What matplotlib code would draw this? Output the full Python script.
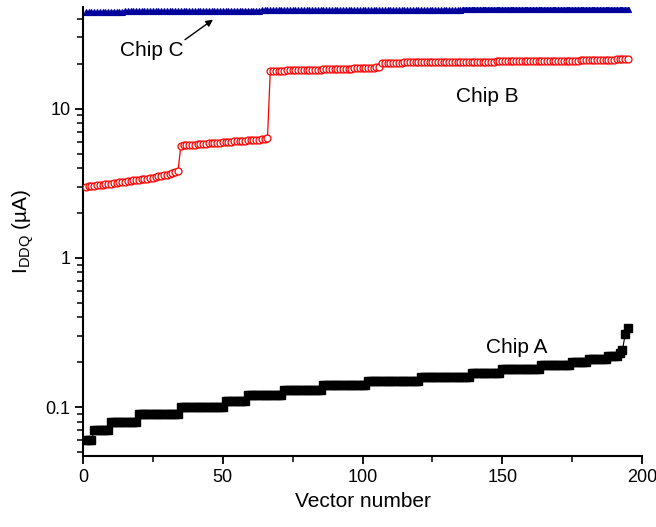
import matplotlib
matplotlib.use("Agg")
import matplotlib.pyplot as plt
from matplotlib.ticker import LogLocator, FuncFormatter, MultipleLocator
import numpy as np

plt.rcParams['font.family'] = ['Liberation Sans', 'DejaVu Sans']

# ---------------- data ----------------
vectors = list(range(1, 196))

chip_a = ([0.06] * 3 + [0.07] * 6 + [0.08] * 10 + [0.09] * 15 + [0.10] * 16 +
          [0.11] * 8 + [0.12] * 13 + [0.13] * 14 + [0.14] * 16 + [0.15] * 19 +
          [0.16] * 18 + [0.17] * 11 + [0.18] * 14 + [0.19] * 11 + [0.20] * 6 +
          [0.21] * 7 + [0.22] * 4 + [0.23, 0.24, 0.31, 0.34])

chip_b = [
    # vectors 1-34
    3.00, 3.02, 3.04, 3.05, 3.07, 3.09, 3.10, 3.12, 3.14, 3.15,
    3.17, 3.19, 3.20, 3.22, 3.24, 3.26, 3.28, 3.30, 3.32, 3.34,
    3.36, 3.38, 3.40, 3.43, 3.45, 3.48, 3.51, 3.54, 3.57, 3.61,
    3.65, 3.69, 3.74, 3.80,
    # vectors 35-66
    5.65, 5.67, 5.70, 5.71, 5.73, 5.75, 5.78, 5.79, 5.81, 5.83,
    5.85, 5.88, 5.89, 5.91, 5.93, 5.95, 5.98, 5.99, 6.01, 6.03,
    6.05, 6.08, 6.09, 6.11, 6.13, 6.15, 6.18, 6.19, 6.21, 6.24,
    6.27, 6.31,
    # vectors 67-106
    17.90, 17.92, 17.94, 17.96, 17.98, 18.00, 18.02, 18.04, 18.06, 18.08,
    18.10, 18.12, 18.14, 18.17, 18.20, 18.22, 18.24, 18.26, 18.28, 18.30,
    18.33, 18.36, 18.38, 18.40, 18.43, 18.46, 18.49, 18.52, 18.55, 18.58,
    18.61, 18.64, 18.67, 18.70, 18.74, 18.78, 18.82, 18.87, 18.93, 19.00,
    # vectors 107-195
    20.30, 20.31, 20.33, 20.33, 20.34, 20.36, 20.36, 20.37, 20.39, 20.39,
    20.40, 20.42, 20.42, 20.43, 20.45, 20.45, 20.46, 20.48, 20.48, 20.49,
    20.50, 20.52, 20.52, 20.53, 20.55, 20.55, 20.56, 20.58, 20.58, 20.59,
    20.60, 20.62, 20.62, 20.63, 20.65, 20.65, 20.66, 20.68, 20.68, 20.69,
    20.70, 20.72, 20.72, 20.73, 20.75, 20.75, 20.76, 20.78, 20.78, 20.79,
    20.80, 20.82, 20.82, 20.83, 20.85, 20.85, 20.86, 20.88, 20.88, 20.89,
    20.90, 20.92, 20.92, 20.93, 20.95, 20.95, 20.96, 20.98, 20.99, 21.00,
    21.02, 21.04, 21.06, 21.08, 21.10, 21.12, 21.14, 21.16, 21.18, 21.20,
    21.23, 21.26, 21.29, 21.32, 21.35, 21.38, 21.41, 21.45, 21.50,
]

chip_c = [
    44.5, 44.5, 44.5, 44.6, 44.6, 44.6, 44.6, 44.6, 44.7, 44.7,
    44.7, 44.7, 44.7, 44.7, 44.8, 44.8, 44.8, 44.8, 44.8, 44.8,
    44.9, 44.9, 44.9, 44.9, 44.9, 44.9, 45.0, 45.0, 45.0, 45.0,
    45.0, 45.0, 45.0, 45.1, 45.1, 45.1, 45.1, 45.1, 45.1, 45.1,
    45.2, 45.2, 45.2, 45.2, 45.2, 45.2, 45.2, 45.3, 45.3, 45.3,
    45.3, 45.3, 45.3, 45.3, 45.3, 45.4, 45.4, 45.4, 45.4, 45.4,
    45.4, 45.4, 45.4, 45.5, 45.5, 45.5, 45.5, 45.5, 45.5, 45.5,
    45.5, 45.5, 45.6, 45.6, 45.6, 45.6, 45.6, 45.6, 45.6, 45.6,
    45.6, 45.7, 45.7, 45.7, 45.7, 45.7, 45.7, 45.7, 45.7, 45.7,
    45.7, 45.8, 45.8, 45.8, 45.8, 45.8, 45.8, 45.8, 45.8, 45.8,
    45.8, 45.9, 45.9, 45.9, 45.9, 45.9, 45.9, 45.9, 45.9, 45.9,
    45.9, 45.9, 46.0, 46.0, 46.0, 46.0, 46.0, 46.0, 46.0, 46.0,
    46.0, 46.0, 46.0, 46.1, 46.1, 46.1, 46.1, 46.1, 46.1, 46.1,
    46.1, 46.1, 46.1, 46.1, 46.1, 46.2, 46.2, 46.2, 46.2, 46.2,
    46.2, 46.2, 46.2, 46.2, 46.2, 46.2, 46.2, 46.3, 46.3, 46.3,
    46.3, 46.3, 46.3, 46.3, 46.3, 46.3, 46.3, 46.3, 46.3, 46.3,
    46.4, 46.4, 46.4, 46.4, 46.4, 46.4, 46.4, 46.4, 46.4, 46.4,
    46.4, 46.4, 46.4, 46.5, 46.5, 46.5, 46.5, 46.5, 46.5, 46.5,
    46.5, 46.5, 46.5, 46.5, 46.5, 46.6, 46.6, 46.6, 46.6, 46.6,
    46.6, 46.6, 46.6, 46.6, 46.7,
]

x_ticks = [0, 50, 100, 150, 200]

# ---------------- figure ----------------
fig = plt.figure(figsize=(6.56, 5.27), dpi=100)
ax = fig.add_axes([83 / 656, 1 - 456 / 527, (642 - 83) / 656, (456 - 7) / 527])

ax.plot(vectors, chip_c, color='#00009c', marker='^', markersize=4.2,
        linewidth=1.2, markeredgewidth=0.8, zorder=3)
ax.plot(vectors, chip_b, color='#ff0000', marker='o', markersize=5.0,
        markerfacecolor='white', markeredgecolor='#ff0000',
        markeredgewidth=0.9, linewidth=0.9, zorder=3)
ax.plot(vectors, chip_a, color='black', marker='s', markersize=5.3,
        linewidth=0.8, zorder=3)

ax.set_yscale('log')
ax.set_xlim(0, 200)
ax.set_ylim(0.047, 48)

ax.set_xticks(x_ticks)
ax.xaxis.set_minor_locator(MultipleLocator(25))
ax.yaxis.set_major_locator(LogLocator(base=10, numticks=10))
ax.yaxis.set_minor_locator(LogLocator(base=10, subs=np.arange(2, 10), numticks=20))
ax.yaxis.set_major_formatter(FuncFormatter(lambda v, p: '%g' % v))
ax.yaxis.set_minor_formatter(FuncFormatter(lambda v, p: ''))

for s in ['top', 'right']:
    ax.spines[s].set_visible(False)
for s in ['left', 'bottom']:
    ax.spines[s].set_linewidth(1.5)

ax.tick_params(which='major', direction='out', length=6, width=1.3,
               labelsize=13, pad=3)
ax.tick_params(which='minor', direction='out', length=4, width=1.1)

ax.set_xlabel('Vector number', fontsize=15, labelpad=5)
ax.set_ylabel(r'I$_{\mathregular{DDQ}}$ (µA)', fontsize=15, labelpad=7)

ax.text(24.7, 24.5, 'Chip C', fontsize=15, ha='center', va='center')
ax.annotate('', xy=(46.5, 39.5), xytext=(36.5, 29.0),
            arrowprops=dict(arrowstyle='-|>', color='black', lw=1.0,
                            mutation_scale=10, shrinkA=0, shrinkB=0))
ax.text(144.5, 12.0, 'Chip B', fontsize=15, ha='center', va='center')
ax.text(155, 0.249, 'Chip A', fontsize=15, ha='center', va='center')

fig.savefig('out.png', dpi=100)
